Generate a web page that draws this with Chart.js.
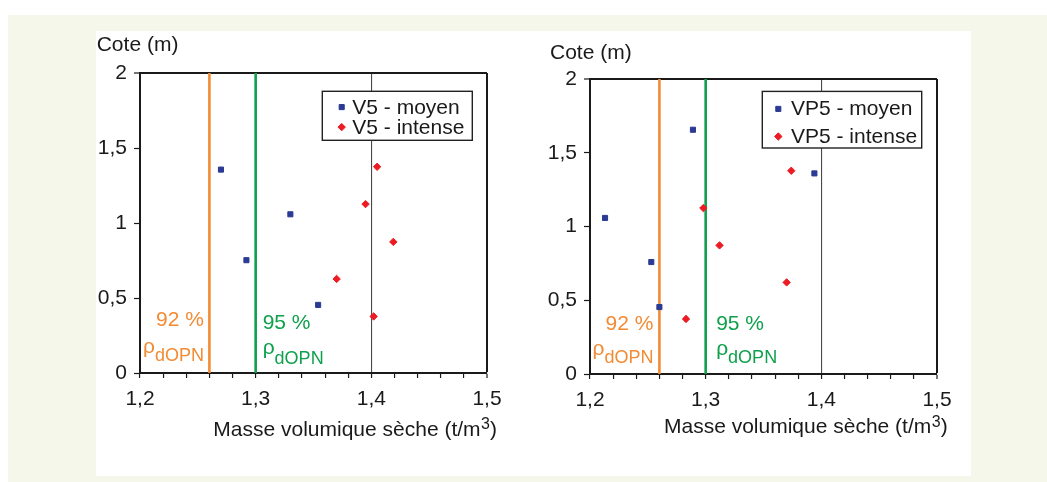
<!DOCTYPE html>
<html><head><meta charset="utf-8">
<script src="https://cdn.jsdelivr.net/npm/chart.js@4"></script>
<style>
html,body{margin:0;padding:0;background:#fff;width:1047px;height:482px;overflow:hidden;}
#bg{position:absolute;left:8px;top:15px;width:1039px;height:467px;background:#f4f7e9;}
#panel{position:absolute;left:96px;top:31px;width:875px;height:445px;background:#fff;}
canvas{position:absolute;}
</style></head><body>
<div id="bg"></div><div id="panel"></div>
<canvas id="c1" style="left:96px;top:31px" width="424" height="444"></canvas>
<canvas id="c2" style="left:520px;top:31px" width="451" height="444"></canvas>
<script>
// ---- data ----
const xMin = 1.2, xMax = 1.5, xStep = 0.02, xLabelStep = 0.1;
const yMin = 0, yMax = 2, yStep = 0.5;
const refDensity = 1.4;
const thresholdValues = [1.26, 1.30];
const thresholdLabels = ['92 %', '95 %'];
const thresholdSymbol = 'ρ';
const thresholdSub = 'dOPN';
const yTitle = 'Cote (m)';
const xTitleMain = 'Masse volumique sèche (t/m';
const xTitleSup = '3';
const xTitleEnd = ')';

const v5Names = ['V5 - moyen', 'V5 - intense'];
const v5MoyenDensity = [1.270, 1.330, 1.292, 1.354];
const v5MoyenDepth = [1.356, 1.058, 0.752, 0.454];
const v5IntenseDensity = [1.405, 1.395, 1.419, 1.370, 1.402];
const v5IntenseDepth = [1.375, 1.126, 0.874, 0.627, 0.377];

const vp5Names = ['VP5 - moyen', 'VP5 - intense'];
const vp5MoyenDensity = [1.289, 1.394, 1.213, 1.253, 1.260];
const vp5MoyenDepth = [1.656, 1.360, 1.058, 0.759, 0.454];
const vp5IntenseDensity = [1.374, 1.298, 1.312, 1.370, 1.283];
const vp5IntenseDepth = [1.378, 1.125, 0.872, 0.621, 0.373];

// ---- styling ----
const BLUE = '#2b3a92', RED = '#ec1c24', ORANGE = '#f28b33', GREEN = '#0ea04c', INK = '#1a1a1a';
const TXT = '"Liberation Sans", Arial, sans-serif';
const near = (a, b) => Math.abs(a - b) < 1e-6;
const pts = (xs, ys) => xs.map((x, i) => ({x, y: ys[i]}));

function drawMarker(ctx, style, x, y, r, color) {
  ctx.save();
  ctx.fillStyle = color; ctx.strokeStyle = color; ctx.lineWidth = 1;
  ctx.beginPath();
  if (style === 'rect') {
    const s = r * Math.SQRT1_2;
    ctx.rect(x - s, y - s, 2 * s, 2 * s);
  } else {
    ctx.moveTo(x, y - r); ctx.lineTo(x + r, y); ctx.lineTo(x, y + r); ctx.lineTo(x - r, y); ctx.closePath();
  }
  ctx.fill(); ctx.stroke();
  ctx.restore();
}

const decorPlugin = {
  id: 'decor',
  afterDraw(chart) {
    const g = chart.options.plugins.decor;
    const ctx = chart.ctx, a = chart.chartArea;
    const xs = chart.scales.x;
    ctx.save();
    ctx.fillStyle = INK;
    ctx.textBaseline = 'alphabetic';
    // y title
    ctx.font = '21px ' + TXT;
    ctx.textAlign = 'left';
    ctx.fillText(yTitle, a.left + g.yTitle.dx, a.top + g.yTitle.dy);
    // x title with superscript
    let tx = a.left + g.xTitle.dx, ty = a.bottom + g.xTitle.dy;
    ctx.fillText(xTitleMain, tx, ty);
    tx += ctx.measureText(xTitleMain).width;
    ctx.font = '16px ' + TXT;
    ctx.fillText(xTitleSup, tx + 0.5, ty - g.xTitle.sup);
    tx += ctx.measureText(xTitleSup).width + 0.5;
    ctx.font = '21px ' + TXT;
    ctx.fillText(xTitleEnd, tx, ty);

    // legend
    const L = g.legend;
    const bx = a.left + L.x, by = a.top + L.y;
    ctx.fillStyle = '#fff';
    ctx.fillRect(bx, by, L.w, L.h);
    ctx.strokeStyle = '#222'; ctx.lineWidth = 1.4;
    ctx.strokeRect(bx, by, L.w, L.h);
    const ds = chart.data.datasets.filter(d => d.inLegend);
    ds.forEach((d, i) => {
      const base = by + L.rows[i];
      drawMarker(ctx, d.pointStyle, bx + L.mx, base - 6.5, d.legendR, d.backgroundColor);
      ctx.fillStyle = INK;
      ctx.font = '21px ' + TXT;
      ctx.textAlign = 'left';
      ctx.fillText(d.label, bx + L.tx, base);
    });

    // threshold annotations
    g.annot.forEach((an, i) => {
      const xp = xs.getPixelForValue(thresholdValues[i]) + an.dx;
      ctx.fillStyle = an.color;
      ctx.font = '21px ' + TXT;
      const wl = ctx.measureText(thresholdLabels[i]).width;
      const wr = ctx.measureText(thresholdSymbol).width;
      ctx.font = '18px ' + TXT;
      const ws = ctx.measureText(thresholdSub).width;
      const left1 = an.align === 'right' ? xp - wl : xp;
      const left2 = an.align === 'right' ? xp - wr - ws : xp;
      ctx.textAlign = 'left';
      ctx.font = '21px ' + TXT;
      ctx.fillText(thresholdLabels[i], left1, a.bottom + an.b1);
      ctx.fillText(thresholdSymbol, left2, a.bottom + an.b2);
      ctx.font = '18px ' + TXT;
      ctx.fillText(thresholdSub, left2 + wr, a.bottom + an.b3);
    });
    ctx.restore();
  }
};

function makeChart(id, names, mD, mY, iD, iY, geo) {
  const datasets = [
    {label: names[0], data: pts(mD, mY), pointStyle: 'rect', pointRadius: 3.6, legendR: 3.6,
     backgroundColor: BLUE, borderColor: BLUE, pointBorderWidth: 1, inLegend: true},
    {label: names[1], data: pts(iD, iY), pointStyle: 'rectRot', pointRadius: 3.7, legendR: 3.7,
     backgroundColor: RED, borderColor: RED, pointBorderWidth: 1, inLegend: true},
    {label: thresholdLabels[0], data: [{x: thresholdValues[0], y: yMin}, {x: thresholdValues[0], y: yMax}],
     showLine: true, pointRadius: 0, borderColor: ORANGE, borderWidth: 2.6, inLegend: false},
    {label: thresholdLabels[1], data: [{x: thresholdValues[1], y: yMin}, {x: thresholdValues[1], y: yMax}],
     showLine: true, pointRadius: 0, borderColor: GREEN, borderWidth: 2.6, inLegend: false}
  ];
  const tickFont = {family: TXT, size: 21};
  return new Chart(document.getElementById(id), {
    type: 'scatter',
    data: {datasets},
    plugins: [decorPlugin],
    options: {
      responsive: false, animation: false, devicePixelRatio: 1, events: [],
      layout: {padding: {left: 0, top: geo.top, right: geo.right, bottom: 0}},
      plugins: {
        legend: {display: false}, tooltip: {enabled: false},
        decor: geo.decor
      },
      scales: {
        x: {
          type: 'linear', min: xMin, max: xMax,
          afterFit: s => { s.height = geo.xH; },
          border: {color: INK, width: 2},
          grid: {
            drawOnChartArea: true,
            color: c => (c.tick && near(c.tick.value, refDensity)) ? '#4a4a4a' : (c.tick && near(c.tick.value, xMax)) ? INK : 'rgba(0,0,0,0)',
            lineWidth: c => (c.tick && near(c.tick.value, xMax)) ? 2 : 1.1,
            tickColor: INK, tickWidth: 1.2, tickLength: 5
          },
          ticks: {
            stepSize: xStep, autoSkip: false, maxRotation: 0, minRotation: 0,
            padding: 9, color: INK, font: tickFont,
            callback: v => {
              const k = v / xLabelStep;
              return Math.abs(k - Math.round(k)) < 1e-6 ? v.toFixed(1).replace('.', ',') : '';
            }
          }
        },
        y: {
          type: 'linear', min: yMin, max: yMax,
          afterFit: s => { s.width = geo.yW; },
          border: {color: INK, width: 2},
          grid: {
            color: c => (c.tick && near(c.tick.value, yMax)) ? INK : 'rgba(0,0,0,0)',
            lineWidth: c => (c.tick && near(c.tick.value, yMax)) ? 2 : 1,
            tickColor: INK, tickWidth: 1.2, tickLength: 6
          },
          ticks: {
            stepSize: yStep, padding: 7, color: INK, font: tickFont,
            callback: v => String(v).replace('.', ',')
          }
        }
      }
    }
  });
}

makeChart('c1', v5Names, v5MoyenDensity, v5MoyenDepth, v5IntenseDensity, v5IntenseDepth, {
  top: 42, right: 33, xH: 102, yW: 44,
  decor: {
    yTitle: {dx: -43.3, dy: -22},
    xTitle: {dx: 73.3, dy: 63, sup: 7},
    legend: {x: 182.3, y: 18.3, w: 150, h: 49, mx: 19.4, tx: 30, rows: [22.3, 42.3]},
    annot: [
      {color: ORANGE, align: 'right', dx: -5.5, b1: -47, b2: -20.5, b3: -12},
      {color: GREEN, align: 'left', dx: 7, b1: -44, b2: -19, b3: -9}
    ]
  }
});

makeChart('c2', vp5Names, vp5MoyenDensity, vp5MoyenDepth, vp5IntenseDensity, vp5IntenseDepth, {
  top: 48, right: 34, xH: 101, yW: 70,
  decor: {
    yTitle: {dx: -40, dy: -20},
    xTitle: {dx: 74, dy: 59.3, sup: 6},
    legend: {x: 172.3, y: 12.4, w: 159.4, h: 56.6, mx: 16, tx: 28.7, rows: [24, 51.6]},
    annot: [
      {color: ORANGE, align: 'right', dx: -6, b1: -44, b2: -19, b3: -11},
      {color: GREEN, align: 'left', dx: 10.5, b1: -44, b2: -19, b3: -11}
    ]
  }
});
</script>
</body></html>
